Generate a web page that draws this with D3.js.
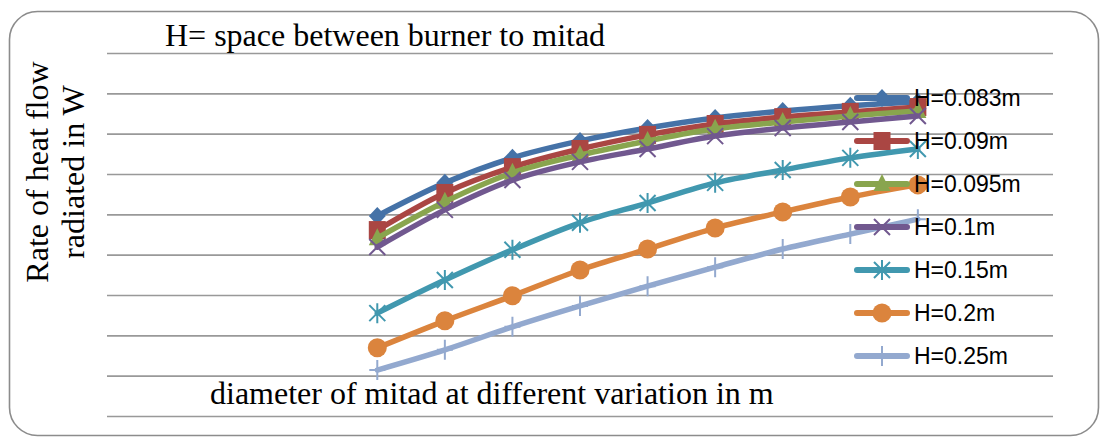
<!DOCTYPE html>
<html>
<head>
<meta charset="utf-8">
<script src="https://cdn.jsdelivr.net/npm/d3@7"></script>
<style>
  html, body { margin: 0; padding: 0; background: #fff; }
  svg { display: block; }
</style>
</head>
<body>
<svg id="chart" width="1101" height="437"></svg>
<script>
// ---- data (y in gridline units) ----
const slots = 14;                       // category slots across the plot width
const pointSlots = [4, 5, 6, 7, 8, 9, 10, 11, 12];
const seriesNames = ["H=0.083m", "H=0.09m", "H=0.095m", "H=0.1m", "H=0.15m", "H=0.2m", "H=0.25m"];
const h0083 = [4.96, 5.78, 6.40, 6.82, 7.14, 7.39, 7.56, 7.69, 7.79];
const h009  = [4.61, 5.53, 6.17, 6.62, 6.97, 7.24, 7.41, 7.54, 7.66];
const h0095 = [4.41, 5.31, 6.03, 6.47, 6.82, 7.12, 7.29, 7.44, 7.56];
const h01   = [4.19, 5.11, 5.85, 6.30, 6.62, 6.94, 7.14, 7.29, 7.44];
const h015  = [2.55, 3.37, 4.12, 4.79, 5.28, 5.78, 6.10, 6.40, 6.62];
const h02   = [1.69, 2.36, 2.98, 3.62, 4.14, 4.66, 5.06, 5.43, 5.73];
const h025  = [1.14, 1.64, 2.21, 2.73, 3.22, 3.69, 4.14, 4.51, 4.88];
const gridTicks = [0, 1, 2, 3, 4, 5, 6, 7, 8, 9];
const titleText = "H= space between burner to mitad";
const xLabelText = "diameter of mitad at different variation in m";
const yLabelLines = ["Rate of heat flow", "radiated in W"];

const seriesValues = [h0083, h009, h0095, h01, h015, h02, h025];
const colors = ["#4572A7", "#AA4643", "#89A54E", "#71588F", "#4198AF", "#DB843D", "#93A9CF"];
const markerTypes = ["diamond", "square", "triangle", "x", "star", "circle", "plus"];

// ---- layout ----
const svg = d3.select("#chart");
const plot = { left: 107, right: 1053, top: 53, bottom: 416 };

const x = d3.scaleLinear().domain([0, slots]).range([plot.left, plot.right]);
const y = d3.scaleLinear().domain([0, 9]).range([plot.bottom, plot.top]);

// outer rounded border
svg.append("rect")
  .attr("x", 9.5).attr("y", 11.5)
  .attr("width", 1089).attr("height", 424)
  .attr("rx", 28).attr("ry", 28)
  .attr("fill", "#fff")
  .attr("stroke", "#8c8c8c")
  .attr("stroke-width", 1.6);

// gridlines via axis
const yAxis = d3.axisLeft(y).tickValues(gridTicks)
  .tickSize(-(plot.right - plot.left)).tickFormat("");
const gAxis = svg.append("g")
  .attr("transform", `translate(${plot.left},0)`)
  .call(yAxis);
gAxis.select(".domain").remove();
gAxis.selectAll(".tick line").attr("stroke", "#999").attr("stroke-width", 1.6);

// texts
svg.append("text")
  .attr("x", 165).attr("y", 46)
  .attr("font-family", "'Liberation Serif','Times New Roman',serif")
  .attr("font-size", 32).attr("fill", "#000")
  .text(titleText);

svg.append("text")
  .attr("x", 210).attr("y", 404)
  .attr("font-family", "'Liberation Serif','Times New Roman',serif")
  .attr("font-size", 32).attr("fill", "#000")
  .text(xLabelText);

const yl = svg.append("text")
  .attr("transform", "translate(0,172) rotate(-90)")
  .attr("font-family", "'Liberation Serif','Times New Roman',serif")
  .attr("font-size", 32).attr("fill", "#000")
  .attr("text-anchor", "middle");
yl.append("tspan").attr("x", 0).attr("y", 48).text(yLabelLines[0]);
yl.append("tspan").attr("x", 0).attr("y", 84).text(yLabelLines[1]);

// marker drawing
function drawMarker(g, type, color) {
  if (type === "diamond") {
    g.append("path").attr("d", "M0,-9L8.5,0L0,9L-8.5,0Z").attr("fill", color);
  } else if (type === "square") {
    g.append("path").attr("d", "M-8.5,-9H8.5V9H-8.5Z").attr("fill", color);
  } else if (type === "triangle") {
    g.append("path").attr("d", "M0,-10L8.5,7L-8.5,7Z").attr("fill", color);
  } else if (type === "x") {
    g.append("path").attr("d", "M-8,-8L8,8M-8,8L8,-8")
      .attr("stroke", color).attr("stroke-width", 2).attr("fill", "none");
  } else if (type === "star") {
    g.append("path").attr("d", "M-8,-8L8,8M-8,8L8,-8M0,-10V10")
      .attr("stroke", color).attr("stroke-width", 2).attr("fill", "none");
  } else if (type === "circle") {
    g.append("circle").attr("r", 9.5).attr("fill", color);
  } else if (type === "plus") {
    g.append("path").attr("d", "M0,-10V10M-8,0H8")
      .attr("stroke", color).attr("stroke-width", 2).attr("fill", "none");
  }
}

const line = d3.line()
  .x((d, i) => x(pointSlots[i]))
  .y(d => y(d))
  .curve(d3.curveCardinal.tension(0));

const seriesG = svg.append("g");
seriesValues.forEach((vals, si) => {
  const g = seriesG.append("g");
  g.append("path")
    .datum(vals)
    .attr("d", line)
    .attr("fill", "none")
    .attr("stroke", colors[si])
    .attr("stroke-width", 5.5)
    .attr("stroke-linejoin", "round")
    .attr("stroke-linecap", "round");
  vals.forEach((v, i) => {
    const m = g.append("g").attr("transform", `translate(${x(pointSlots[i])},${y(v)})`);
    drawMarker(m, markerTypes[si], colors[si]);
  });
});

// legend
const legendY = d3.scaleLinear().domain([0, 6]).range([98, 356]);
const legend = svg.append("g");
seriesNames.forEach((name, si) => {
  const cy = legendY(si);
  const lg = legend.append("g");
  lg.append("line")
    .attr("x1", 857).attr("x2", 907)
    .attr("y1", cy).attr("y2", cy)
    .attr("stroke", colors[si]).attr("stroke-width", 6)
    .attr("stroke-linecap", "round");
  const m = lg.append("g").attr("transform", `translate(882,${cy})`);
  drawMarker(m, markerTypes[si], colors[si]);
  lg.append("text")
    .attr("x", 914).attr("y", cy + 8)
    .attr("font-family", "'Liberation Sans',Arial,sans-serif")
    .attr("font-size", 23).attr("fill", "#000")
    .text(name);
});
</script>
</body>
</html>
